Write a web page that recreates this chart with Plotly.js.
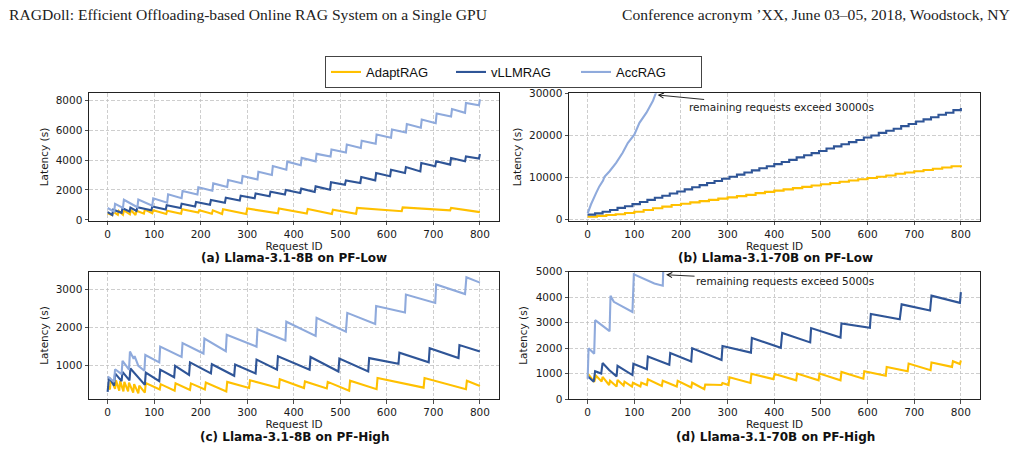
<!DOCTYPE html>
<html><head><meta charset="utf-8">
<script src="https://cdn.plot.ly/plotly-3.0.1.min.js"></script>
<style>html,body{margin:0;padding:0;background:#fff;overflow:hidden}#chart{width:1019px;height:466px}</style>
</head><body><div id="chart"></div>
<script>
// ---------- data ----------
const seriesNames = ['AdaptRAG', 'vLLMRAG', 'AccRAG'];
const seriesColors = ['#FFC000', '#2F5597', '#8FAADC'];
const requestTicks = [0, 100, 200, 300, 400, 500, 600, 700, 800];

const panelTitles = ['(a) Llama-3.1-8B on PF-Low', '(b) Llama-3.1-70B on PF-Low',
                     '(c) Llama-3.1-8B on PF-High', '(d) Llama-3.1-70B on PF-High'];
const yTicksA = [0, 2000, 4000, 6000, 8000];
const yTicksB = [0, 10000, 20000, 30000];
const yTicksC = [1000, 2000, 3000];
const yTicksD = [0, 1000, 2000, 3000, 4000, 5000];
const noteB = 'remaining requests exceed 30000s';
const noteD = 'remaining requests exceed 5000s';

// (a) Llama-3.1-8B on PF-Low
const aAdaptX = [0,10,12,22,24,33,35,48,50,60,62,78,80,96,98,126,128,158,160,195,197,224,226,246,248,298,300,366,368,428,430,482,484,534,536,632,634,736,738,800];
const aAdaptY = [450,320,560,340,600,350,640,380,660,330,620,420,700,450,650,400,620,420,720,500,650,420,640,400,720,390,760,440,760,430,730,400,690,420,800,580,840,640,800,520];
const aVllmX = [0,10,12,30,32,47,49,62,64,94,96,125,127,157,159,188,190,220,222,252,254,284,286,316,318,348,350,381,383,414,416,445,447,478,480,510,512,543,545,575,577,607,609,639,641,672,674,704,706,736,738,768,770,798,800];
const aVllmY = [520,330,680,480,780,560,820,600,850,640,900,700,980,800,1080,900,1200,1020,1330,1150,1480,1300,1620,1450,1760,1580,1880,1700,2000,1800,2090,1870,2240,2020,2510,2350,2640,2470,2870,2640,3130,2910,3350,3130,3530,3240,3800,3580,3910,3690,4130,3910,4240,4090,4400];
const aAccX = [0,14,16,33,35,64,66,96,98,128,130,159,161,193,195,225,227,257,259,288,290,322,324,353,355,384,386,415,417,447,449,479,481,512,514,544,546,576,578,609,611,641,643,673,675,705,707,738,740,768,770,798,800];
const aAccY = [800,560,1070,800,1350,850,1370,950,1440,1150,1710,1450,1930,1700,2180,1950,2440,2200,2670,2450,2930,2700,3220,3000,3600,3350,3890,3650,4140,3910,4410,4230,4700,4500,5030,4800,5290,5080,5700,5480,6030,5830,6400,6150,6700,6450,7100,6900,7400,7150,7810,7650,8050];

// (b) Llama-3.1-70B on PF-Low (step plots)
const bAdaptX = [0,20,40,60,80,100,120,140,160,180,200,220,240,260,280,300,320,340,360,380,400,420,440,460,480,500,520,540,560,580,600,620,640,660,680,700,720,740,760,780,800];
const bAdaptY = [700,900,1100,1300,1600,1900,2300,2700,3100,3500,3800,4100,4400,4700,5000,5300,5600,5900,6300,6600,6900,7200,7500,7800,8100,8400,8700,9000,9300,9600,9900,10200,10500,10900,11200,11500,11800,12100,12400,12700,12900];
const bVllmX = [0,16,32,48,64,80,96,112,128,144,160,176,192,208,224,240,256,272,288,304,320,336,352,368,384,400,416,432,448,464,480,496,512,528,544,560,576,592,608,624,640,656,672,688,704,720,736,752,768,784,800];
const bVllmY = [1200,1500,1900,2300,2800,3200,3700,4200,4700,5200,5700,6200,6700,7200,7700,8200,8700,9200,9700,10200,10700,11200,11700,12200,12700,13200,13700,14200,14800,15300,15800,16300,16900,17400,17900,18400,18900,19500,20000,20600,21100,21600,22200,22700,23300,23800,24300,24900,25400,26000,26500];
const bAccX = [0,7,18,25,33,36,47,61,75,86,100,111,126,140,146,150];
const bAccY = [1500,3600,6300,7900,9300,10200,11500,13500,15900,18200,20200,23000,25400,28200,30000,32000];

// (c) Llama-3.1-8B on PF-High
const cAdaptX = [0,5,7,16,18,25,27,34,36,44,46,55,57,66,68,80,82,112,114,144,146,177,179,209,211,255,257,304,306,368,370,422,424,471,473,519,521,578,580,679,681,770,772,800];
const cAdaptY = [480,380,650,400,620,350,600,330,580,330,560,300,520,280,480,300,550,380,520,350,540,370,540,380,560,330,580,420,620,420,650,420,590,410,580,350,610,390,680,430,680,390,610,470];
const cVllmX = [0,3,14,16,30,32,47,49,80,82,111,113,143,145,175,177,222,224,272,274,318,320,364,366,434,436,496,498,560,562,625,627,690,692,754,756,800];
const cVllmY = [320,700,480,800,600,840,620,930,500,820,600,900,700,1000,760,1090,800,1040,740,1030,800,1160,900,1250,900,1230,850,1190,850,1200,1050,1340,1090,1460,1200,1540,1370];
const cAccX = [0,14,16,30,32,46,48,56,58,66,79,81,111,113,159,161,206,208,254,256,320,322,382,384,447,449,512,515,575,577,639,641,704,706,768,771,800];
const cAccY = [720,580,910,780,1130,900,1370,1180,1250,1000,870,1280,1090,1500,1230,1590,1320,1710,1380,1810,1500,1950,1660,2150,1780,2250,1890,2380,2090,2560,2390,2860,2640,3120,2870,3310,3170];

// (d) Llama-3.1-70B on PF-High
const dAdaptX = [0,14,18,30,32,46,48,62,64,77,79,95,97,113,115,127,129,159,161,191,193,222,224,250,252,287,289,302,304,349,351,398,401,447,449,495,497,542,544,591,593,639,641,686,688,735,737,781,783,798,800];
const dAdaptY = [1020,680,920,700,880,560,730,500,760,540,690,500,650,500,650,560,780,520,730,500,720,460,650,400,580,560,640,560,860,640,1000,790,990,745,1010,745,1010,745,1070,810,1100,920,1270,1100,1400,1140,1440,1270,1490,1380,1520];
const dVllmX = [0,13,16,29,32,43,46,62,64,96,98,127,129,175,177,222,224,287,289,350,352,414,417,477,479,542,544,605,607,669,673,734,737,798,800];
const dVllmY = [900,690,1100,1010,1420,1200,1150,900,1310,950,1390,1180,1680,1350,1810,1480,2000,1540,2090,1830,2400,2020,2600,2230,2790,2420,2970,2800,3340,3140,3720,3480,4060,3780,4200];
const dAccX = [0,2,14,16,47,49,56,96,99,143,161,163];
const dAccY = [800,2000,1790,3100,2670,4060,3820,3420,4900,4540,4450,5600];

// ---------- figure ----------
const W = 1019, H = 466;
const px = v => v / W;          // horizontal pixel -> paper
const py = v => 1 - v / H;      // vertical pixel -> paper

const tickFont = {family: 'DejaVu Sans, sans-serif', size: 10.5, color: '#1a1a1a'};
const gridStyle = {showgrid: true, gridcolor: '#c2c2c2', griddash: '3.5px,2px', gridwidth: 0.8};
function xAxis(domain, anchor) {
  return Object.assign({
    domain: domain, anchor: anchor, range: [-40, 841],
    tickmode: 'array', tickvals: requestTicks, ticktext: requestTicks.map(String),
    showline: true, mirror: true, linecolor: '#222', linewidth: 1,
    ticks: 'outside', ticklen: 3.5, tickwidth: 0.8, tickcolor: '#222',
    zeroline: false, tickfont: tickFont, fixedrange: true,
    title: {text: 'Request ID', font: tickFont, standoff: 1}
  }, gridStyle);
}
function yAxis(domain, anchor, range, ticks, standoff) {
  return Object.assign({
    domain: domain, anchor: anchor, range: range,
    tickmode: 'array', tickvals: ticks, ticktext: ticks.map(String),
    showline: true, mirror: true, linecolor: '#222', linewidth: 1,
    ticks: 'outside', ticklen: 3.5, tickwidth: 0.8, tickcolor: '#222',
    zeroline: false, tickfont: tickFont, fixedrange: true,
    title: {text: 'Latency (s)', font: tickFont, standoff: standoff}
  }, gridStyle);
}

const panels = [
  {xa: 'x',  ya: 'y',  sets: [[aAdaptX, aAdaptY], [aVllmX, aVllmY], [aAccX, aAccY]], shape: 'linear'},
  {xa: 'x2', ya: 'y2', sets: [[bAdaptX, bAdaptY], [bVllmX, bVllmY], [bAccX, bAccY]], shape: ['hv', 'hv', 'linear']},
  {xa: 'x3', ya: 'y3', sets: [[cAdaptX, cAdaptY], [cVllmX, cVllmY], [cAccX, cAccY]], shape: 'linear'},
  {xa: 'x4', ya: 'y4', sets: [[dAdaptX, dAdaptY], [dVllmX, dVllmY], [dAccX, dAccY]], shape: 'linear'}
];

const traces = [];
panels.forEach((p, pi) => {
  p.sets.forEach((s, si) => {
    traces.push({
      type: 'scatter', mode: 'lines', x: s[0], y: s[1],
      xaxis: p.xa, yaxis: p.ya, name: seriesNames[si], legendgroup: seriesNames[si],
      showlegend: pi === 0,
      line: {color: seriesColors[si], width: 2.1,
             shape: Array.isArray(p.shape) ? p.shape[si] : p.shape},
      hoverinfo: 'skip'
    });
  });
});

const capFont = {family: 'DejaVu Sans, sans-serif', size: 12, color: '#111', weight: 'bold'};
const headFont = {family: 'Liberation Serif, serif', size: 15.6, color: '#222'};
const noteFont = {family: 'DejaVu Sans, sans-serif', size: 10.5, color: '#1a1a1a'};

const annotations = [
  {xref: 'paper', yref: 'paper', x: px(7), y: py(14), xanchor: 'left', yanchor: 'middle',
   text: 'RAGDoll: Efficient Offloading-based Online RAG System on a Single GPU', showarrow: false, font: headFont},
  {xref: 'paper', yref: 'paper', x: px(1012), y: py(14), xanchor: 'right', yanchor: 'middle',
   text: 'Conference acronym \u2019XX, June 03\u201305, 2018, Woodstock, NY', showarrow: false, font: headFont},
  {xref: 'paper', yref: 'paper', x: px(294), y: py(258), xanchor: 'center', yanchor: 'middle',
   text: '<b>' + panelTitles[0] + '</b>', showarrow: false, font: capFont},
  {xref: 'paper', yref: 'paper', x: px(775), y: py(258), xanchor: 'center', yanchor: 'middle',
   text: '<b>' + panelTitles[1] + '</b>', showarrow: false, font: capFont},
  {xref: 'paper', yref: 'paper', x: px(294), y: py(437), xanchor: 'center', yanchor: 'middle',
   text: '<b>' + panelTitles[2] + '</b>', showarrow: false, font: capFont},
  {xref: 'paper', yref: 'paper', x: px(775), y: py(437), xanchor: 'center', yanchor: 'middle',
   text: '<b>' + panelTitles[3] + '</b>', showarrow: false, font: capFont},
  {xref: 'x2', yref: 'y2', x: 150, y: 29600, ax: 124, ay: 12, text: noteB,
   showarrow: true, arrowhead: 5, arrowsize: 1.1, arrowwidth: 0.9, arrowcolor: '#111', standoff: 0, font: noteFont},
  {xref: 'x4', yref: 'y4', x: 168, y: 4880, ax: 119, ay: 6, text: noteD,
   showarrow: true, arrowhead: 5, arrowsize: 1.1, arrowwidth: 0.9, arrowcolor: '#111', standoff: 0, font: noteFont}
];

const layout = {
  width: W, height: H, autosize: false,
  margin: {l: 0, r: 0, t: 0, b: 0, pad: 0},
  paper_bgcolor: '#fff', plot_bgcolor: '#fff',
  showlegend: true,
  legend: {orientation: 'h', x: px(513.5), xanchor: 'center', y: py(72), yanchor: 'middle',
           bordercolor: '#444', borderwidth: 1, bgcolor: '#fff',
           font: {family: 'Liberation Sans, sans-serif', size: 13, color: '#111'},
           itemwidth: 30, entrywidth: 80, entrywidthmode: 'pixels', traceorder: 'normal'},
  xaxis:  xAxis([px(89), px(499)], 'y'),
  yaxis:  yAxis([py(220.7), py(93.3)], 'x', [-50, 8450], yTicksA, 4),
  xaxis2: xAxis([px(569), px(980)], 'y2'),
  yaxis2: yAxis([py(220.7), py(93.3)], 'x2', [-240, 30000], yTicksB, 5),
  xaxis3: xAxis([px(89), px(499)], 'y3'),
  yaxis3: yAxis([py(399.3), py(271.7)], 'x3', [125, 3455], yTicksC, 4),
  xaxis4: xAxis([px(569), px(980)], 'y4'),
  yaxis4: yAxis([py(399.3), py(271.7)], 'x4', [0, 5000], yTicksD, 5),
  annotations: annotations
};

Plotly.newPlot('chart', traces, layout, {staticPlot: true, displayModeBar: false});
</script>
</body></html>
